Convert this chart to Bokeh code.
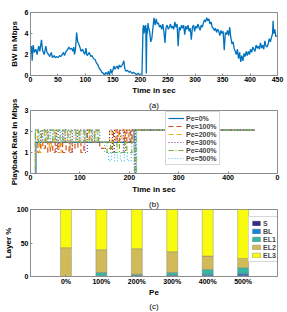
from bokeh.plotting import figure
from bokeh.layouts import column
from bokeh.models import (Legend, LegendItem, FixedTicker, Range1d, ColumnDataSource, Title)
from bokeh.embed import file_html
from bokeh.resources import INLINE

# ---------------- data ----------------
# (a) bandwidth trace
bw_t = [0, 2, 3, 5, 7, 10, 12, 15, 17, 20, 22, 25, 28, 30, 33, 35, 38, 40, 43, 45, 48, 50, 53, 55, 58,
        60, 62, 65, 68, 70, 72, 75, 77, 79, 80, 82, 84, 86, 88, 90, 92, 95, 97, 99, 101, 103, 105, 107,
        110, 112, 115, 118, 120, 123, 125, 128, 130, 133, 135, 137, 140, 142, 144, 146, 148, 150, 152,
        154, 156, 158, 160, 162, 164, 166, 168, 170, 172, 174, 176, 178, 180, 182, 185, 188, 190, 193,
        196, 199, 201, 203, 205, 206, 207, 208, 209, 210, 211, 212, 213, 214, 215, 217, 219, 221, 223,
        225, 227, 229, 231, 233, 235, 237, 239, 241, 243, 245, 247, 249, 251, 253, 255, 257, 259, 261,
        263, 265, 267, 269, 271, 273, 275, 277, 279, 281, 283, 285, 287, 289, 291, 293, 295, 297, 299,
        301, 303, 305, 307, 309, 311, 313, 315, 317, 319, 321, 323, 325, 327, 329, 331, 333, 335, 337,
        339, 341, 343, 345, 347, 349, 351, 353, 355, 357, 359, 361, 363, 365, 367, 369, 371, 373, 375,
        377, 379, 381, 383, 385, 387, 389, 391, 393, 395, 397, 399, 401, 403, 405, 407, 409, 411, 413,
        415, 417, 419, 421, 423, 425, 427, 429, 431, 433, 435, 437, 439, 441, 442, 443, 445, 447, 449]
bw_v = [2.0, 2.8, 1.4, 2.9, 2.2, 2.5, 2.0, 2.8, 2.3, 3.4, 2.4, 2.0, 2.8, 2.2, 2.0, 1.8, 2.2, 1.7, 1.9, 1.7,
        1.8, 1.7, 1.9, 1.8, 2.0, 2.2, 1.9, 2.3, 2.5, 2.7, 2.5, 2.6, 2.3, 2.7, 2.0, 2.5, 4.1, 3.2, 3.0, 2.7,
        2.3, 2.5, 2.2, 2.0, 2.6, 1.9, 2.0, 2.2, 1.8, 1.9, 1.6, 1.5, 1.2, 1.0, 0.7, 0.5, 0.3, 0.2, 0.0, 0.3,
        0.1, 0.4, 0.0, 0.6, 0.2, 0.5, 0.9, 0.6, 0.8, 0.9, 0.6, 1.0, 0.8, 0.9, 1.1, 1.4, 0.6, 0.4, 0.5, 0.4,
        0.3, 0.4, 0.2, 0.3, 0.2, 0.1, 0.2, 0.1, 0.0, 0.0, 4.5, 4.8, 4.0, 4.7, 4.2, 4.8, 0.2, 4.5, 4.0, 5.0,
        4.6, 4.2, 3.2, 3.5, 4.5, 5.5, 4.8, 5.4, 4.9, 5.0, 4.6, 4.8, 4.4, 4.9, 4.2, 3.1, 4.6, 4.8, 4.4, 4.6,
        4.9, 4.5, 4.7, 4.4, 5.1, 4.6, 4.9, 2.8, 4.6, 4.3, 4.8, 4.5, 4.8, 3.9, 4.7, 4.4, 4.8, 4.2, 4.5, 3.4,
        4.6, 4.8, 4.2, 4.7, 4.5, 4.9, 4.6, 4.3, 4.8, 4.6, 5.0, 5.3, 5.1, 5.5, 5.2, 5.4, 4.9, 5.1, 4.6, 4.5,
        4.3, 4.5, 4.1, 4.4, 4.2, 3.8, 4.3, 4.0, 4.2, 2.4, 4.1, 3.9, 4.3, 3.8, 4.6, 3.6, 3.0, 3.2, 2.6, 2.3,
        2.0, 2.5, 1.6, 2.2, 1.3, 1.9, 1.4, 2.1, 1.8, 2.3, 1.9, 2.3, 2.0, 2.5, 2.2, 2.7, 2.5, 2.3, 2.9, 2.6,
        2.8, 2.5, 3.1, 2.6, 2.9, 2.5, 3.3, 2.8, 2.7, 3.0, 3.5, 3.2, 3.6, 4.0, 5.2, 4.0, 4.4, 3.7, 3.8]
bw_xticks = [0, 50, 100, 150, 200, 250, 300, 350, 400, 450]
bw_yticks = [0, 2, 4, 6]

# (b) playback rate (step series)
pe_names = ["Pe=0%", "Pe=100%", "Pe=200%", "Pe=300%", "Pe=400%", "Pe=500%"]
pb0_t = [0, 11, 210, 454]
pb0_v = [0, 1.48, 2.07, 2.07]
pb1_t = [0, 10, 15, 20, 25, 30, 35, 40, 45, 50, 55, 60, 65, 72, 78, 84, 90, 96, 102, 108, 115, 120,
         140, 165, 168, 175, 180, 190, 195, 202, 206, 454]
pb1_v = [0, 1.5, 1.0, 1.5, 1.2, 1.5, 1.0, 1.5, 1.0, 1.5, 1.2, 1.5, 1.0, 1.5, 1.0, 1.5, 1.2, 1.5, 1.0,
         1.5, 2.07, 1.5, 1.2, 1.5, 2.07, 1.5, 2.07, 1.5, 2.07, 1.5, 2.07, 2.07]
pb2_t = [0, 10, 14, 18, 22, 28, 33, 38, 42, 48, 52, 58, 62, 70, 75, 80, 85, 92, 100, 110, 118, 130,
         135, 160, 165, 172, 178, 185, 192, 198, 205, 210, 454]
pb2_v = [0, 2.07, 1.5, 1.0, 1.5, 2.07, 1.5, 1.2, 1.5, 2.07, 1.5, 1.0, 1.5, 2.07, 1.5, 1.2, 1.5, 2.07,
         1.5, 2.07, 1.5, 2.07, 1.5, 2.07, 1.5, 2.07, 1.5, 2.07, 1.5, 2.07, 1.5, 2.07, 2.07]
pb3_t = [0, 10, 20, 24, 35, 40, 52, 56, 65, 70, 80, 85, 95, 100, 110, 115, 125, 130, 140, 160, 166,
         170, 176, 182, 188, 192, 200, 204, 210, 213, 454]
pb3_v = [0, 2.07, 1.5, 2.07, 1.5, 2.07, 1.0, 2.07, 1.5, 2.07, 1.0, 2.07, 1.5, 2.07, 1.0, 2.07, 1.5,
         2.07, 1.5, 2.07, 1.0, 2.07, 1.5, 2.07, 1.0, 2.07, 1.5, 2.07, 0, 2.07, 2.07]
pb4_t = [0, 10, 16, 22, 30, 36, 45, 50, 60, 66, 76, 82, 92, 98, 108, 114, 124, 130, 138, 155, 162,
         168, 175, 180, 190, 195, 205, 211, 214, 454]
pb4_v = [0, 2.07, 1.5, 2.07, 1.5, 2.07, 1.5, 2.07, 1.5, 2.07, 1.5, 2.07, 1.5, 2.07, 1.5, 2.07, 1.5,
         2.07, 1.5, 1.0, 1.5, 1.0, 1.5, 1.0, 1.5, 1.0, 1.5, 0, 2.07, 2.07]
pb5_t = [0, 10, 18, 25, 32, 40, 46, 55, 62, 68, 74, 88, 96, 104, 112, 120, 128, 135, 140, 150, 158,
         164, 170, 176, 182, 190, 196, 204, 209, 212, 215, 454]
pb5_v = [0, 2.07, 1.5, 2.07, 1.5, 2.07, 1.5, 2.07, 1.5, 2.07, 1.5, 2.07, 1.5, 2.07, 1.5, 2.07, 1.5,
         2.07, 1.5, 1.0, 0.6, 1.0, 0.6, 1.0, 0.6, 1.0, 0.6, 1.0, 2.07, 0, 2.07, 2.07]
pb_xticks = [0, 100, 200, 300, 400, 500]
pb_xlabels = ["0", "100", "200", "300", "400", "0"]
pb_yticks = [0, 1, 2, 3]

# (c) layer percentages
pe_x = [1, 2, 3, 4, 5, 6]
pe_labels = ["0%", "100%", "200%", "300%", "400%", "500%"]
layer_names = ["S", "BL", "EL1", "EL2", "EL3"]
S = [0, 0, 0.5, 1, 1, 2]
BL = [0, 1, 1, 1, 2.5, 3]
EL1 = [0, 5, 2, 4, 7, 8]
EL2 = [43, 34, 38, 31, 20, 14]
EL3 = [57, 60, 58.5, 63, 69.5, 73]
layer_yticks = [0, 50, 100]

# ---------------- styling ----------------
FONT = "Liberation Sans"
AXC = "#8c8c8c"
W = 287


def style(p, xticks, yticks, xlabel, ylabel, xstand, ystand):
    p.outline_line_color = AXC
    p.xgrid.visible = False
    p.ygrid.visible = False
    p.background_fill_color = "white"
    p.border_fill_color = "white"
    p.xaxis.ticker = FixedTicker(ticks=xticks)
    p.yaxis.ticker = FixedTicker(ticks=yticks)
    p.xaxis.axis_label = xlabel
    p.yaxis.axis_label = ylabel
    for ax in p.axis:
        ax.axis_label_text_font = FONT
        ax.axis_label_text_font_size = "8px"
        ax.axis_label_text_font_style = "bold"
        ax.axis_label_text_color = "black"
        ax.major_label_text_font = FONT
        ax.major_label_text_font_size = "7px"
        ax.major_label_text_font_style = "bold"
        ax.major_label_text_color = "black"
        ax.major_tick_in = 2
        ax.major_tick_out = 0
        ax.minor_tick_line_color = None
        ax.axis_line_color = AXC
        ax.major_tick_line_color = AXC
    p.xaxis.major_label_standoff = 1
    p.xaxis.axis_label_standoff = xstand
    p.yaxis.major_label_standoff = 2
    p.yaxis.axis_label_standoff = ystand


def sub_title(text, offset=0, standoff=0):
    return Title(text=text, align="center", offset=offset, text_font=FONT, text_font_size="8px",
                 text_font_style="normal", text_color="black", standoff=standoff)


def style_legend(leg, gh, gw):
    leg.label_text_font = FONT
    leg.label_text_font_size = "7px"
    leg.label_text_font_style = "bold"
    leg.label_height = 8
    leg.glyph_height = gh
    leg.glyph_width = gw
    leg.label_standoff = 2
    leg.spacing = 0
    leg.padding = 2
    leg.margin = 0
    leg.border_line_color = "#b0b0b0"
    leg.background_fill_alpha = 1.0


# (a)  frame: x 29..277, y 12..77
pa = figure(width=W, height=97, x_range=Range1d(0, 450), y_range=Range1d(0, 6),
            output_backend="svg", toolbar_location=None,
            min_border_left=29, min_border_right=10, min_border_top=12, min_border_bottom=20)
pa.line(bw_t, bw_v, line_color="#0072BD", line_width=1.3)
style(pa, bw_xticks, bw_yticks, "Time in sec", "BW in Mbps", 1, 3)

# (b)  frame: x 29..277, y 110..175
pb = figure(width=W, height=99, x_range=Range1d(0, 500), y_range=Range1d(0, 3),
            output_backend="svg", toolbar_location=None,
            min_border_left=29, min_border_right=10, min_border_top=13, min_border_bottom=21)
colors = ["#0072BD", "#D95319", "#EDB120", "#7E2F8E", "#77AC30", "#4DBEEE"]
dashes = ["solid", "5 3", "5 3", "1 2", "5 2 1 2", "1 2"]
series = [(pb0_t, pb0_v), (pb1_t, pb1_v), (pb2_t, pb2_v), (pb3_t, pb3_v), (pb4_t, pb4_v), (pb5_t, pb5_v)]
items = []
for (tt, vv), c, d, name in zip(series, colors, dashes, pe_names):
    r = pb.step(tt, vv, mode="after", line_color=c, line_dash=d, line_width=1.2)
    items.append(LegendItem(label=name, renderers=[r]))
style(pb, pb_xticks, pb_yticks, "Time in sec", "Playback Rate in Mbps", 2, 3)
pb.xaxis.major_label_overrides = {t: l for t, l in zip(pb_xticks, pb_xlabels)}
pb.add_layout(sub_title("(a)", offset=-3, standoff=1), "above")
leg_b = Legend(items=items, location=(135, 8))
style_legend(leg_b, 8, 16)
pb.add_layout(leg_b)

# (c)  frame: x 29..277, y 209..276
pc = figure(width=W, height=116, x_range=Range1d(0, 6.97), y_range=Range1d(0, 100),
            output_backend="svg", toolbar_location=None,
            min_border_left=29, min_border_right=10, min_border_top=13, min_border_bottom=36)
src = ColumnDataSource(dict(x=pe_x, S=S, BL=BL, EL1=EL1, EL2=EL2, EL3=EL3))
bar_colors = ["#352a87", "#1484d4", "#33b8a1", "#d1bb59", "#f9fb0e"]
bars = pc.vbar_stack(layer_names, x="x", width=0.31, source=src, fill_color=bar_colors,
                     line_color="#7a7a7a", line_width=0.4)
style(pc, pe_x, layer_yticks, "Pe", "Layer %", 0, 1)
pc.xaxis.major_label_overrides = {x: l for x, l in zip(pe_x, pe_labels)}
pc.add_layout(sub_title("(b)", offset=-4, standoff=1), "above")
pc.add_layout(sub_title("(c)", offset=-4), "below")
leg_c = Legend(items=[LegendItem(label=n, renderers=[r]) for n, r in zip(layer_names, bars)],
               location=(218, 14))
style_legend(leg_c, 6, 10)
pc.add_layout(leg_c)

layout = column(pa, pb, pc, spacing=0)
open("out.html", "w").write(file_html(layout, INLINE))
